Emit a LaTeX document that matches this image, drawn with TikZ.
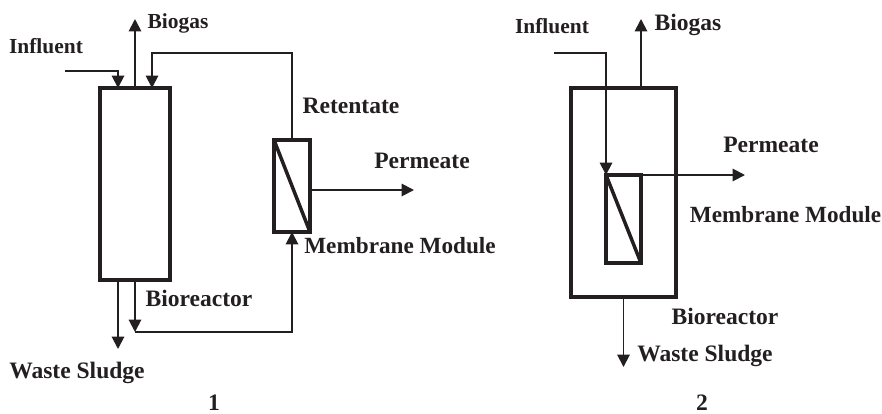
\documentclass[tikz,border=0pt]{standalone}
\usepackage{fontspec}
\setmainfont{Liberation Serif}
\usetikzlibrary{arrows.meta}
\definecolor{ink}{RGB}{35,31,32}

\begin{document}
\begin{tikzpicture}[x=0.02cm, y=-0.02cm, color=ink,
    wall/.style={draw, line width=2pt, inner sep=0pt, outer sep=0pt},
    pipe/.style={line width=1.1pt},
    flow/.style={pipe, -{Triangle[length=7pt, width=7pt]}},
    lbl/.style={anchor=base, inner sep=0pt, font=\fontsize{13.4}{15}\selectfont\bfseries},
    lblmodule/.style={lbl, font=\fontsize{13.2}{15}\selectfont\bfseries},
    lblsmall/.style={lbl, font=\fontsize{12.2}{14}\selectfont\bfseries}]
    \useasboundingbox (0, 0) rectangle (882, 413);

    % Scheme 1: bioreactor and external membrane module
    \node[wall, minimum width=1.40cm, minimum height=3.84cm] (reactorA) at (135, 184) {};
    \node[wall, minimum width=0.72cm, minimum height=1.84cm] (moduleA) at (292, 186) {};
    \draw[wall] (moduleA.north west) -- (moduleA.south east);

    % Free ends and junctions of scheme 1
    \coordinate (influentA) at (65, 71);
    \coordinate (inletA) at (118, 88);
    \coordinate (biogasA) at (135, 19);
    \coordinate (returnTopA) at (152, 53);
    \coordinate (returnA) at (152, 88);
    \coordinate (sludgeTopA) at (118, 280);
    \coordinate (sludgeA) at (118, 349);
    \coordinate (recycleA) at (135, 332);
    \coordinate (permeateFootA) at (310, 190);
    \coordinate (permeateA) at (414, 190);

    \draw[flow] (influentA) -| (inletA);
    \draw[flow] (reactorA.north) -- (biogasA);
    \draw[flow] (moduleA.north) |- (returnTopA) -- (returnA);
    \draw[flow] (sludgeTopA) -- (sludgeA);
    \draw[flow] (reactorA.south) -- (recycleA);
    \draw[flow] (recycleA) -| (moduleA.south);
    \draw[flow] (permeateFootA) -- (permeateA);

    % Labels of scheme 1
    \node[lblsmall] (influentTextA) at (46, 53) {Influent};
    \node[lblsmall] (biogasTextA) at (178, 28) {Biogas};
    \node[lbl] (retentateText) at (351, 113) {Retentate};
    \node[lbl] (permeateTextA) at (422, 168) {Permeate};
    \node[lblmodule] (moduleTextA) at (400, 253) {Membrane Module};
    \node[lbl] (reactorTextA) at (199, 306) {Bioreactor};
    \node[lbl] (sludgeTextA) at (77, 378) {Waste Sludge};
    \node[lbl] (numberA) at (214, 410) {1};

    % Scheme 2: membrane module inside the bioreactor
    \node[wall, minimum width=2.10cm, minimum height=4.18cm] (reactorB) at (623.5, 192.5) {};
    \node[wall, minimum width=0.70cm, minimum height=1.76cm] (moduleB) at (623.5, 219) {};
    \draw[wall] (moduleB.north west) -- (moduleB.south east);

    % Free ends of scheme 2
    \coordinate (influentB) at (554, 53);
    \coordinate (biogasB) at (641, 19);
    \coordinate (biogasFootB) at (641, 88);
    \coordinate (permeateB) at (745, 175);
    \coordinate (sludgeB) at (623.5, 367);

    \draw[flow] (influentB) -| (moduleB.north west);
    \draw[flow] (biogasFootB) -- (biogasB);
    \draw[flow] (moduleB.north west) -- (permeateB);
    \draw[flow] (reactorB.south) -- (sludgeB);

    % Labels of scheme 2
    \node[lblsmall] (influentTextB) at (552, 33) {Influent};
    \node[lbl] (biogasTextB) at (688, 30) {Biogas};
    \node[lbl] (permeateTextB) at (771, 152) {Permeate};
    \node[lblmodule] (moduleTextB) at (785.5, 222) {Membrane Module};
    \node[lbl] (reactorTextB) at (725, 324) {Bioreactor};
    \node[lbl] (sludgeTextB) at (705, 361) {Waste Sludge};
    \node[lbl] (numberB) at (702, 410) {2};
\end{tikzpicture}
\end{document}
